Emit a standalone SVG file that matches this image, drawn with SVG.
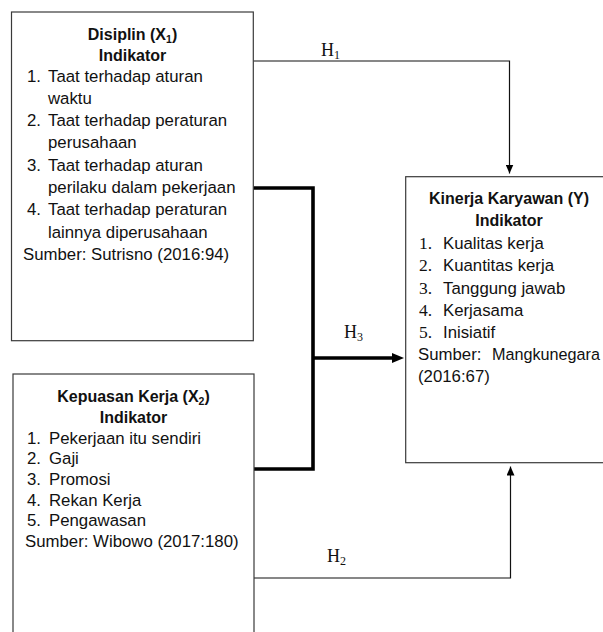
<svg xmlns="http://www.w3.org/2000/svg" width="603" height="632" viewBox="0 0 603 632">
<style>
.box{fill:#fff;stroke:#3a3a3a;stroke-width:1.2}
.t{font-family:"Liberation Sans",Arial,sans-serif;font-size:16.8px;fill:#111}
.ttl{font-family:"Liberation Sans",Arial,sans-serif;font-size:16px;font-weight:bold;fill:#111;text-anchor:middle}
.sub{font-size:10.5px}
.num{font-family:"Liberation Serif","Times New Roman",serif;font-size:17.5px;fill:#111}
.h{font-family:"Liberation Serif","Times New Roman",serif;font-size:18px;fill:#111}
.hs{font-size:12px}
.thin{fill:none;stroke:#111;stroke-width:1.2}
.thick{fill:none;stroke:#000;stroke-width:3.6}
</style>
<defs>
<marker id="arr" markerUnits="userSpaceOnUse" markerWidth="9" markerHeight="8" refX="9" refY="4" orient="auto">
<path d="M0,0 L9,4 L0,8 z" fill="#000"/>
</marker>
<marker id="arrBig" markerUnits="userSpaceOnUse" markerWidth="12" markerHeight="10" refX="3" refY="5" orient="auto">
<path d="M0,0 L12,5 L0,10 z" fill="#000"/>
</marker>
</defs>
<rect width="603" height="632" fill="#fff"/>

<g id="connectors">
<polyline class="thin" points="253.3,61 509.5,61 509.5,173.5" marker-end="url(#arr)"/>
<polyline class="thin" points="254,578 510.5,578 510.5,466.5" marker-end="url(#arr)"/>
<polyline class="thick" points="253.3,188 313,188 313,469 254,469"/>
<line class="thick" x1="313" y1="358" x2="395" y2="358" marker-end="url(#arrBig)"/>
<text class="h" x="321" y="56">H<tspan class="hs" dy="3">1</tspan></text>
<text class="h" x="344" y="338">H<tspan class="hs" dy="3">3</tspan></text>
<text class="h" x="327" y="562">H<tspan class="hs" dy="3">2</tspan></text>
</g>

<g id="node-x1">
<rect class="box" x="11.5" y="12" width="241.8" height="328.7"/>
<text class="ttl" x="132.5" y="39.5">Disiplin (X<tspan class="sub" dy="3">1</tspan><tspan dy="-3">)</tspan></text>
<text class="ttl" x="132.5" y="60.5">Indikator</text>
<text class="t" x="27" y="81.5">1.</text><text class="t" x="48" y="81.5">Taat terhadap aturan</text>
<text class="t" x="48" y="103.8">waktu</text>
<text class="t" x="27" y="126.1">2.</text><text class="t" x="48" y="126.1">Taat terhadap peraturan</text>
<text class="t" x="48" y="148.4">perusahaan</text>
<text class="t" x="27" y="170.7">3.</text><text class="t" x="48" y="170.7">Taat terhadap aturan</text>
<text class="t" x="48" y="193">perilaku dalam pekerjaan</text>
<text class="t" x="27" y="215.3">4.</text><text class="t" x="48" y="215.3">Taat terhadap peraturan</text>
<text class="t" x="48" y="237.6">lainnya diperusahaan</text>
<text class="t" x="23" y="259.9">Sumber: Sutrisno (2016:94)</text>
</g>

<g id="node-x2">
<rect class="box" x="13" y="374" width="241" height="270"/>
<text class="ttl" x="133.5" y="401.5">Kepuasan Kerja (X<tspan class="sub" dy="3">2</tspan><tspan dy="-3">)</tspan></text>
<text class="ttl" x="133.5" y="422.5">Indikator</text>
<text class="t" x="27" y="443.5">1.</text><text class="t" x="49" y="443.5">Pekerjaan itu sendiri</text>
<text class="t" x="27" y="464.2">2.</text><text class="t" x="49" y="464.2">Gaji</text>
<text class="t" x="27" y="484.9">3.</text><text class="t" x="49" y="484.9">Promosi</text>
<text class="t" x="27" y="505.6">4.</text><text class="t" x="49" y="505.6">Rekan Kerja</text>
<text class="t" x="27" y="526.3">5.</text><text class="t" x="49" y="526.3">Pengawasan</text>
<text class="t" x="25" y="547">Sumber: Wibowo (2017:180)</text>
</g>

<g id="node-y">
<rect class="box" x="405.7" y="176.7" width="206.3" height="286"/>
<text class="ttl" x="509" y="204">Kinerja Karyawan (Y)</text>
<text class="ttl" x="509" y="226">Indikator</text>
<text class="num" x="419" y="248.5">1.</text><text class="t" x="443" y="248.5">Kualitas kerja</text>
<text class="num" x="419" y="271">2.</text><text class="t" x="443" y="271">Kuantitas kerja</text>
<text class="num" x="419" y="293.5">3.</text><text class="t" x="443" y="293.5">Tanggung jawab</text>
<text class="num" x="419" y="316">4.</text><text class="t" x="443" y="316">Kerjasama</text>
<text class="num" x="419" y="338">5.</text><text class="t" x="443" y="338">Inisiatif</text>
<text class="t" x="418" y="360">Sumber:</text>
<text class="t" x="492" y="360" textLength="108" lengthAdjust="spacingAndGlyphs">Mangkunegara</text>
<text class="t" x="418" y="382">(2016:67)</text>
</g>
</svg>
